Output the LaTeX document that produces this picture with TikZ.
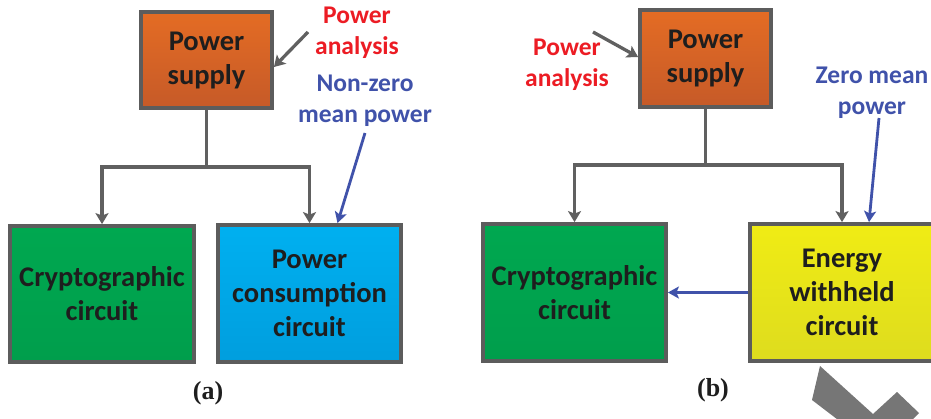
\documentclass[tikz,border=0pt]{standalone}
\usepackage{fontspec}
\setmainfont{Carlito}
\newfontfamily\capfont{Liberation Serif}
\usetikzlibrary{arrows.meta,calc,shadows}
\definecolor{boxline}{RGB}{92,92,92}
\definecolor{conn}{RGB}{96,96,96}
\definecolor{txtdark}{RGB}{30,30,30}
\definecolor{orangeT}{RGB}{228,108,36}
\definecolor{orangeB}{RGB}{198,90,40}
\definecolor{greenT}{RGB}{0,168,80}
\definecolor{greenB}{RGB}{0,158,76}
\definecolor{blueT}{RGB}{0,176,240}
\definecolor{blueB}{RGB}{0,158,222}
\definecolor{yellowT}{RGB}{240,236,20}
\definecolor{yellowB}{RGB}{222,220,30}
\definecolor{redtxt}{RGB}{236,28,36}
\definecolor{bluetxt}{RGB}{64,82,170}
\definecolor{blockgray}{RGB}{118,118,118}
\begin{document}
\begin{tikzpicture}[x=1pt,y=-1pt,
  blockbox/.style={draw=boxline, line width=3.8pt, align=center, text=txtdark,
    font=\bfseries\fontsize{28.5}{34}\selectfont, inner sep=0pt,
    drop shadow={opacity=0.25, shadow xshift=1.5pt, shadow yshift=-1.5pt}},
  graylink/.style={draw=conn, line width=3.3pt, -{Stealth[length=11pt,width=13pt,inset=2.5pt]}},
  graysegment/.style={draw=conn, line width=3.3pt},
  bluelink/.style={draw=bluetxt, line width=2.8pt, -{Stealth[length=11pt,width=12pt,inset=2.5pt]}},
  redlabel/.style={text=redtxt, align=center, font=\bfseries\fontsize{25.5}{31}\selectfont, inner sep=0pt},
  bluelabel/.style={text=bluetxt, align=center, font=\bfseries\fontsize{25.5}{31}\selectfont, inner sep=0pt},
  caplabel/.style={text=txtdark, font=\capfont\bfseries\fontsize{26}{30}\selectfont, inner sep=0pt}
]
\useasboundingbox (0,0) rectangle (931,418);
\fill[white] (0,0) rectangle (931,418);

% ---------- panel (a) ----------
\node[blockbox, minimum width=131pt, minimum height=96pt, top color=orangeT, bottom color=orangeB]
  (ps1) at (206.5,60) {Power\\supply};
\node[blockbox, minimum width=184pt, minimum height=136pt, top color=greenT, bottom color=greenB]
  (cr1) at (102,294) {Cryptographic\\circuit};
\node[blockbox, minimum width=183pt, minimum height=137pt, top color=blueT, bottom color=blueB]
  (pc1) at (309.5,293.5) {Power\\consumption\\circuit};

\coordinate (j1) at (206.5,167);
\draw[graysegment] (ps1.south) -- (j1);
\draw[graylink] (j1) -| (cr1.north);
\draw[graylink] (j1) -| (pc1.north);

\node[redlabel] (pa1t) at (357,32.5) {Power\\analysis};
\coordinate (pa1) at (308,32);
\draw[graylink] (pa1) -- ([yshift=-7pt]ps1.east);

\node[bluelabel] (nz1t) at (365,101) {Non-zero\\mean power};
\coordinate (nz1) at (365,133);
\draw[bluelink] (nz1) -- ([xshift=28pt]pc1.north);

\node[caplabel] (capa) at (208,393) {(a)};

% ---------- panel (b) ----------
\node[blockbox, minimum width=131pt, minimum height=97pt, top color=orangeT, bottom color=orangeB]
  (ps2) at (705.5,58.5) {Power\\supply};
\node[blockbox, minimum width=183pt, minimum height=137pt, top color=greenT, bottom color=greenB]
  (cr2) at (574.5,292.5) {Cryptographic\\circuit};
\node[blockbox, minimum width=184pt, minimum height=137pt, top color=yellowT, bottom color=yellowB]
  (ew2) at (842,292.5) {Energy\\withheld\\circuit};

\coordinate (j2) at (705.5,165);
\draw[graysegment] (ps2.south) -- (j2);
\draw[graylink] (j2) -| (cr2.north);
\draw[graylink] (j2) -| (ew2.north);

\node[redlabel] (pa2t) at (567,65) {Power\\analysis};
\coordinate (pa2) at (593,32);
\draw[graylink] (pa2) -- ([yshift=1.5pt]ps2.west);

\node[bluelabel] (zm2t) at (872,93) {Zero mean\\power};
\coordinate (zm2) at (879,118);
\draw[bluelink] (zm2) -- ([xshift=27pt]ew2.north);

\draw[bluelink] (ew2.west) -- (cr2.east);

\node[caplabel] (capb) at (713,390) {(b)};

% gray block shape at bottom right
\fill[blockgray] (820,366) -- (873,414) -- (897,392) -- (919,413) -- (880,452) -- (812,400) -- cycle;
\end{tikzpicture}
\end{document}
